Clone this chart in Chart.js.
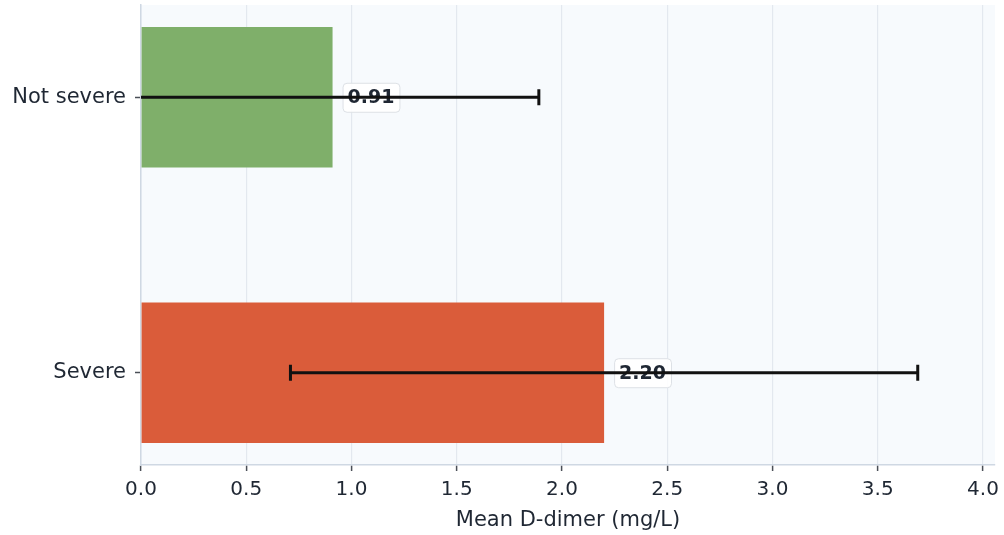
<!DOCTYPE html>
<html>
<head>
<meta charset="utf-8">
<script src="https://cdn.jsdelivr.net/npm/chart.js@4"></script>
<style>
  html, body { margin: 0; padding: 0; background: #ffffff; }
  #wrap { width: 1004px; height: 535px; }
</style>
</head>
<body>
<div id="wrap"><canvas id="chart" width="1004" height="535"></canvas></div>
<script>
// ==== Données
const categories = ["Not severe", "Severe"];
const meanValues = [0.91, 2.20];
const errLow = [-0.07, 0.71];
const errHigh = [1.89, 3.69];
const barColors = ["#7faf6a", "#da5c3a"];
const xTicks = [0, 0.5, 1, 1.5, 2, 2.5, 3, 3.5, 4];

const FONT = "'DejaVu Sans', sans-serif";
const TEXT = "#1f2733";

// ==== Fond du panneau
const panelBg = {
  id: "panelBg",
  beforeDraw(chart) {
    const { ctx, chartArea: a } = chart;
    ctx.save();
    ctx.fillStyle = "#f7fafd";
    ctx.fillRect(a.left, a.top, a.right - a.left, a.bottom - a.top);
    ctx.restore();
  },
};

// ==== Étiquettes + barres d'erreur
const errorBars = {
  id: "errorBars",
  afterDatasetsDraw(chart) {
    const { ctx, chartArea: a } = chart;
    const xs = chart.scales.x, ys = chart.scales.y;

    // étiquettes de valeur
    ctx.save();
    ctx.font = "bold 19px " + FONT;
    ctx.textBaseline = "middle";
    meanValues.forEach((v, i) => {
      const txt = v.toFixed(2);
      const x0 = xs.getPixelForValue(v) + 10;
      const y = ys.getPixelForValue(i);
      const w = ctx.measureText(txt).width + 10;
      const h = 29;
      ctx.beginPath();
      ctx.roundRect(x0 + 0.5, y - h / 2 + 0.5, w, h, 4);
      ctx.fillStyle = "rgba(255,255,255,0.9)";
      ctx.fill();
      ctx.strokeStyle = "#dde1e6";
      ctx.lineWidth = 1;
      ctx.stroke();
      ctx.fillStyle = TEXT;
      ctx.textAlign = "center";
      ctx.fillText(txt, x0 + w / 2, y + 1);
    });
    ctx.restore();

    // barres d'erreur
    ctx.save();
    ctx.beginPath();
    ctx.rect(a.left, a.top, a.right - a.left, a.bottom - a.top);
    ctx.clip();
    ctx.strokeStyle = "#111111";
    ctx.lineWidth = 3;
    categories.forEach((c, i) => {
      const y = ys.getPixelForValue(i);
      const xl = xs.getPixelForValue(errLow[i]);
      const xr = xs.getPixelForValue(errHigh[i]);
      ctx.beginPath();
      ctx.moveTo(xl, y);
      ctx.lineTo(xr, y);
      ctx.moveTo(xl, y - 8);
      ctx.lineTo(xl, y + 8);
      ctx.moveTo(xr, y - 8);
      ctx.lineTo(xr, y + 8);
      ctx.stroke();
    });
    ctx.restore();
  },
};

new Chart(document.getElementById("chart"), {
  type: "bar",
  data: {
    datasets: [
      {
        data: meanValues.map((v, i) => ({ x: v, y: i })),
        backgroundColor: barColors,
        borderWidth: 0,
        barPercentage: 0.51,
        categoryPercentage: 1,
      },
    ],
  },
  options: {
    indexAxis: "y",
    responsive: false,
    animation: false,
    devicePixelRatio: 1,
    layout: { padding: { left: 0, right: 9, top: 5, bottom: 0 } },
    plugins: { legend: { display: false }, tooltip: { enabled: false } },
    scales: {
      x: {
        type: "linear",
        min: 0,
        max: 4.057,
        afterBuildTicks: (s) => { s.ticks = xTicks.map((v) => ({ value: v })); },
        afterFit: (s) => { s.height = 70; s.paddingRight = 0; s.paddingLeft = 0; },
        border: { color: "#cfd8e3", width: 1.5 },
        grid: { color: "#e3e8ef", lineWidth: 1.2, tickColor: "#4a4f57", tickLength: 6, tickWidth: 1.5 },
        ticks: {
          color: TEXT,
          font: { family: FONT, size: 20 },
          padding: 7,
          callback: (v) => Number(v).toFixed(1),
        },
        title: {
          display: true,
          text: "Mean D-dimer (mg/L)",
          color: TEXT,
          font: { family: FONT, size: 21 },
          padding: { top: 2, bottom: 2 },
        },
      },
      y: {
        type: "linear",
        offset: false,
        reverse: true,
        min: -0.335,
        max: 1.335,
        afterBuildTicks: (s) => { s.ticks = categories.map((c, i) => ({ value: i })); },
        afterFit: (s) => { s.width = 141; s.paddingTop = 0; s.paddingBottom = 0; },
        border: { color: "#cfd8e3", width: 1.5 },
        grid: { offset: false, drawOnChartArea: false, tickColor: "#4a4f57", tickLength: 6, tickWidth: 1.5 },
        ticks: {
          color: TEXT,
          font: { family: FONT, size: 21 },
          padding: 9,
          callback: (v) => categories[v] || "",
        },
      },
    },
  },
  plugins: [panelBg, errorBars],
});
</script>
</body>
</html>
